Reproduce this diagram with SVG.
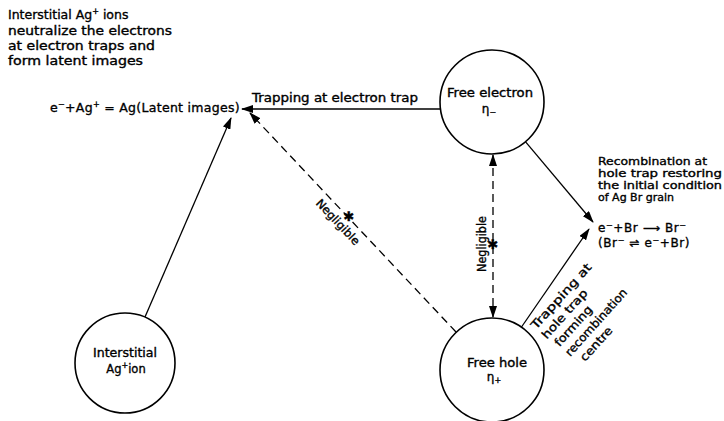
<svg xmlns="http://www.w3.org/2000/svg" width="724" height="421" viewBox="0 0 724 421">
<style>
text{font-family:"DejaVu Sans","Liberation Sans",sans-serif;font-size:11.5px;fill:#000;stroke:#000;stroke-width:0.35}
.n{fill:none;stroke:#000;stroke-width:1.6}
.c{fill:none;stroke:#000;stroke-width:1.3}
.d{fill:none;stroke:#000;stroke-width:1.3;stroke-dasharray:8 5}
.star{font-size:13px}
.sup{font-size:8px}
.r{font-size:10.5px}
.eq{font-size:12px;letter-spacing:0.6px}
</style>
<defs>
<marker id="ah" markerWidth="12" markerHeight="8" refX="11" refY="4" orient="auto" markerUnits="userSpaceOnUse"><path d="M0,0 L12,4 L0,8 Z" fill="#000"/></marker>
<marker id="as" markerWidth="12" markerHeight="8" refX="1" refY="4" orient="auto" markerUnits="userSpaceOnUse"><path d="M12,0 L0,4 L12,8 Z" fill="#000"/></marker>
</defs>
<rect width="724" height="421" fill="#fff"/>

<g id="note-top">
<text x="8" y="19" style="font-size:12.5px">Interstitial Ag<tspan class="sup" dy="-5">+</tspan><tspan dy="5"> ions</tspan></text>
<text x="8" y="35" textLength="164" lengthAdjust="spacingAndGlyphs">neutralize the electrons</text>
<text x="8" y="50" textLength="147" lengthAdjust="spacingAndGlyphs">at electron traps and</text>
<text x="8" y="65" textLength="135" lengthAdjust="spacingAndGlyphs">form latent images</text>
</g>

<g id="latent-images">
<text x="50" y="112" style="font-size:12.5px;letter-spacing:0.3px">e<tspan class="sup" dy="-5">−</tspan><tspan dy="5">+Ag</tspan><tspan class="sup" dy="-5">+</tspan><tspan dy="5"> = Ag(Latent images)</tspan></text>
</g>

<g id="free-electron">
<circle class="n" cx="492" cy="102" r="52"/>
<text x="490" y="97" text-anchor="middle" textLength="86" lengthAdjust="spacingAndGlyphs">Free electron</text>
<text x="489" y="113" text-anchor="middle" style="font-size:12px">η<tspan class="sup" dy="2">−</tspan></text>
</g>

<g id="free-hole">
<circle class="n" cx="492" cy="370" r="52"/>
<text x="497" y="367" text-anchor="middle" textLength="60" lengthAdjust="spacingAndGlyphs">Free hole</text>
<text x="494" y="381" text-anchor="middle" style="font-size:12px">η<tspan class="sup" dy="2">+</tspan></text>
</g>

<g id="interstitial-ion">
<circle class="n" cx="125" cy="363" r="50"/>
<text x="125" y="357" text-anchor="middle" textLength="64" lengthAdjust="spacingAndGlyphs">Interstitial</text>
<text x="126" y="373" text-anchor="middle">Ag<tspan class="sup" dy="-5">+</tspan><tspan dy="5">ion</tspan></text>
</g>

<g id="recombination">
<text class="r" x="598" y="165" textLength="109" lengthAdjust="spacingAndGlyphs">Recombination at</text>
<text class="r" x="598" y="177" textLength="124" lengthAdjust="spacingAndGlyphs">hole trap restoring</text>
<text class="r" x="598" y="189" textLength="124" lengthAdjust="spacingAndGlyphs">the initial condition</text>
<text class="r" x="598" y="201" textLength="76" lengthAdjust="spacingAndGlyphs">of Ag Br grain</text>
<text class="eq" x="598" y="232">e<tspan class="sup" dy="-4">−</tspan><tspan dy="4">+Br ⟶ Br</tspan><tspan class="sup" dy="-4">−</tspan></text>
<text class="eq" x="598" y="247">(Br<tspan class="sup" dy="-4">−</tspan><tspan dy="4"> ⇌ e</tspan><tspan class="sup" dy="-4">−</tspan><tspan dy="4">+Br)</tspan></text>
</g>

<g id="connectors">
<line class="c" x1="440.6" y1="109" x2="242" y2="109" marker-end="url(#ah)"/>
<text x="252" y="102" textLength="166" lengthAdjust="spacingAndGlyphs">Trapping at electron trap</text>

<line class="c" x1="145" y1="317" x2="231" y2="118" marker-end="url(#ah)"/>

<line class="d" x1="456" y1="332" x2="250" y2="113" marker-end="url(#ah)"/>
<text class="star" x="349" y="221" text-anchor="middle">✱</text>
<text transform="translate(338,222) rotate(46.7)" x="0" y="4" text-anchor="middle" textLength="58" lengthAdjust="spacingAndGlyphs">Negligible</text>

<line class="d" x1="493" y1="155" x2="493" y2="317" marker-start="url(#as)" marker-end="url(#ah)"/>
<text class="star" x="493" y="249" text-anchor="middle">✱</text>
<text transform="translate(486,244) rotate(-90)" x="0" y="0" text-anchor="middle" textLength="56" lengthAdjust="spacingAndGlyphs">Negligible</text>

<line class="c" x1="525.4" y1="141.7" x2="593" y2="222" marker-end="url(#ah)"/>
<line class="c" x1="521.5" y1="327" x2="589" y2="229" marker-end="url(#ah)"/>

<g transform="translate(536,330) rotate(-48)">
<text x="0" y="0" textLength="84" lengthAdjust="spacingAndGlyphs">Trapping at</text>
<text x="0" y="14.5" textLength="62" lengthAdjust="spacingAndGlyphs">hole trap</text>
<text x="3" y="29" textLength="50" lengthAdjust="spacingAndGlyphs">forming</text>
<text x="3" y="43.5" textLength="86" lengthAdjust="spacingAndGlyphs">recombination</text>
<text x="9" y="58" textLength="42" lengthAdjust="spacingAndGlyphs">centre</text>
</g>
</g>
</svg>
